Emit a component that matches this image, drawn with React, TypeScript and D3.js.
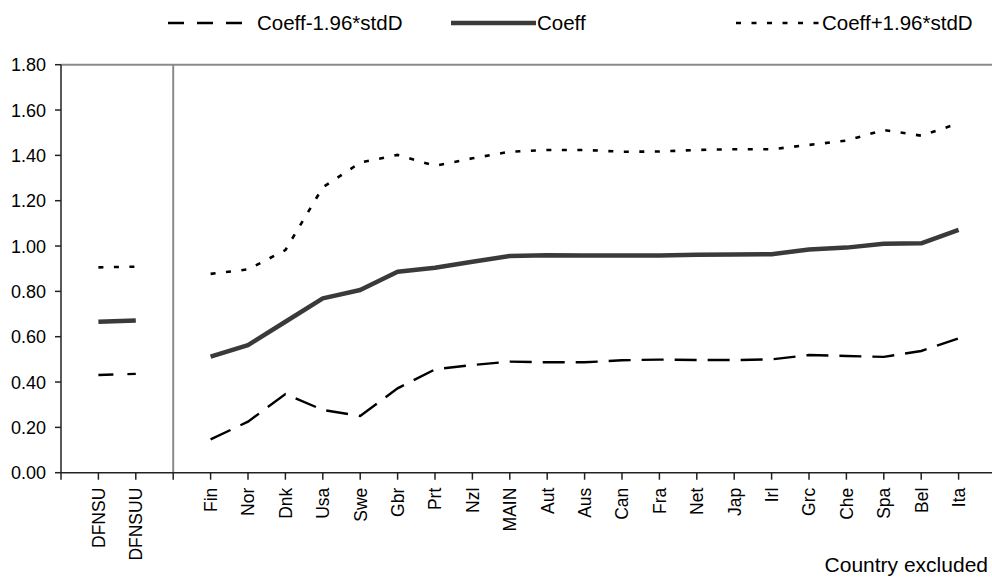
import React from "react";
import * as d3 from "d3";

const categories = ["", "DFNSU", "DFNSUU", "", "Fin", "Nor", "Dnk", "Usa", "Swe", "Gbr", "Prt", "Nzl", "MAIN", "Aut", "Aus", "Can", "Fra", "Net", "Jap", "Irl", "Grc", "Che", "Spa", "Bel", "Ita"];

const leftCats = ["DFNSU", "DFNSUU"];
const leftLower = [0.431, 0.436];
const leftCoeff = [0.666, 0.672];
const leftUpper = [0.906, 0.909];

const countries = ["Fin", "Nor", "Dnk", "Usa", "Swe", "Gbr", "Prt", "Nzl", "MAIN", "Aut", "Aus", "Can", "Fra", "Net", "Jap", "Irl", "Grc", "Che", "Spa", "Bel", "Ita"];
const lower = [0.147, 0.225, 0.347, 0.277, 0.25, 0.372, 0.456, 0.475, 0.49, 0.487, 0.487, 0.496, 0.499, 0.497, 0.497, 0.5, 0.519, 0.515, 0.511, 0.537, 0.593];
const coeff = [0.512, 0.563, 0.666, 0.769, 0.806, 0.887, 0.904, 0.931, 0.956, 0.959, 0.958, 0.958, 0.958, 0.962, 0.963, 0.964, 0.985, 0.993, 1.01, 1.012, 1.071];
const upper = [0.877, 0.897, 0.982, 1.259, 1.368, 1.402, 1.354, 1.387, 1.416, 1.424, 1.424, 1.416, 1.417, 1.424, 1.427, 1.427, 1.446, 1.465, 1.512, 1.487, 1.541];

const yTicks = [0, 0.2, 0.4, 0.6, 0.8, 1.0, 1.2, 1.4, 1.6, 1.8];

const FONT = "'Liberation Sans', Arial, sans-serif";

export default function App() {
  const W = 992;
  const H = 579;
  const left = 61;
  const step = 37.4;
  const top = 64.7;
  const bottom = 472.7;

  const x = d3.scaleLinear().domain([0, categories.length]).range([left, left + categories.length * step]);
  const y = d3.scaleLinear().domain([0, 1.8]).range([bottom, top]);
  const xi = (name: string) => x(categories.indexOf(name));

  const lineOf = (names: string[], vals: number[]) =>
    d3.line<number>().x((_, i) => xi(names[i])).y((v) => y(v))(vals) || "";

  const sepX = x(3);
  const lowerDash = "22,11";
  const upperDash = "5,10.5";

  return (
    <svg width={W} height={H} style={{ position: "absolute", left: 0, top: 0, background: "#fff" }} fontFamily={FONT}>
      <rect width={W} height={H} fill="#fff" />
      {/* legend */}
      <g>
        <line x1={168} x2={244} y1={23} y2={23} stroke="#000" strokeWidth={2.6} strokeDasharray="16,13" />
        <text x={257} y={30} fontSize={20.5} fill="#000">Coeff-1.96*stdD</text>
        <line x1={451} x2={536} y1={23} y2={23} stroke="#3a3a3a" strokeWidth={4.5} />
        <text x={537} y={30} fontSize={20.5} fill="#000">Coeff</text>
        <line x1={736} x2={819} y1={23} y2={23} stroke="#000" strokeWidth={2.6} strokeDasharray={upperDash} />
        <text x={822} y={30} fontSize={20.5} fill="#000">Coeff+1.96*stdD</text>
      </g>

      {/* top border and separator */}
      <line x1={left} x2={W} y1={top} y2={top} stroke="#8a8a8a" strokeWidth={2} />
      <line x1={sepX} x2={sepX} y1={top} y2={bottom} stroke="#8a8a8a" strokeWidth={2} />

      {/* y axis */}
      <line x1={left} x2={left} y1={top} y2={bottom} stroke="#222" strokeWidth={1.5} />
      {yTicks.map((t) => (
        <g key={t}>
          <line x1={left - 6} x2={left} y1={y(t)} y2={y(t)} stroke="#222" strokeWidth={1.5} />
          <text x={46} y={y(t)} dy="0.36em" textAnchor="end" fontSize={18} fill="#000">
            {d3.format(".2f")(t)}
          </text>
        </g>
      ))}

      {/* x axis */}
      <line x1={left} x2={W} y1={bottom} y2={bottom} stroke="#222" strokeWidth={1.5} />
      {categories.map((c, i) => (
        <g key={i}>
          <line x1={x(i)} x2={x(i)} y1={bottom} y2={bottom + 7} stroke="#222" strokeWidth={1.5} />
          {c && (
            <text
              transform={`translate(${x(i)},${bottom + 15}) rotate(-90)`}
              dy="0.36em"
              textAnchor="end"
              fontSize={17.5}
              fill="#000"
            >
              {c}
            </text>
          )}
        </g>
      ))}
      <text x={988} y={572} textAnchor="end" fontSize={21} fill="#000">Country excluded</text>

      {/* left section lines */}
      <path d={lineOf(leftCats, leftUpper)} fill="none" stroke="#000" strokeWidth={2.6} strokeDasharray={upperDash} />
      <path d={lineOf(leftCats, leftCoeff)} fill="none" stroke="#3a3a3a" strokeWidth={4.5} />
      <path d={lineOf(leftCats, leftLower)} fill="none" stroke="#000" strokeWidth={2.4} strokeDasharray="15,14" />

      {/* main section lines */}
      <path d={lineOf(countries, upper)} fill="none" stroke="#000" strokeWidth={2.6} strokeDasharray={upperDash} />
      <path d={lineOf(countries, coeff)} fill="none" stroke="#3a3a3a" strokeWidth={4.5} strokeLinejoin="round" />
      <path d={lineOf(countries, lower)} fill="none" stroke="#000" strokeWidth={2.4} strokeDasharray={lowerDash} />
    </svg>
  );
}
